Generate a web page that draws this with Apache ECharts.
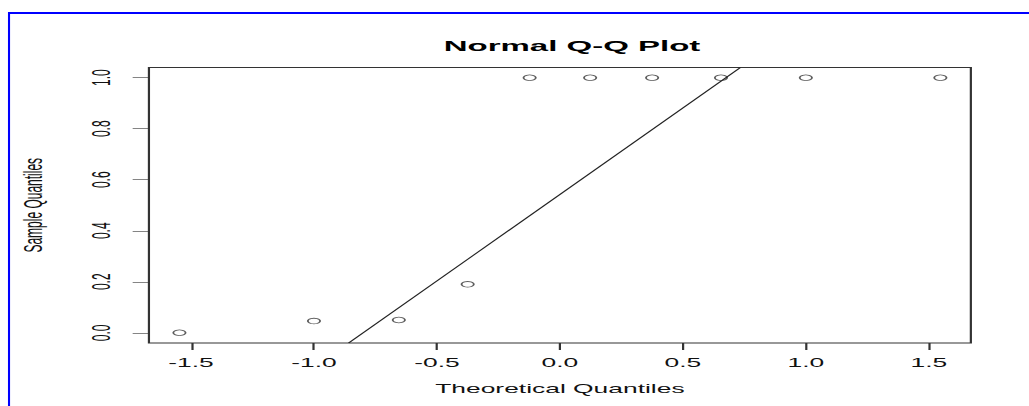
<!DOCTYPE html>
<html>
<head>
<meta charset="utf-8">
<script src="https://cdn.jsdelivr.net/npm/echarts@6/dist/echarts.min.js"></script>
<style>
  html, body { margin: 0; padding: 0; background: #fff; overflow: hidden; }
  #wrap { width: 1029px; height: 406px; overflow: hidden; position: relative; }
  #chart { width: 467.7px; height: 406px; transform: scaleX(2.2); transform-origin: 0 0; }
</style>
</head>
<body>
<div id="wrap"><div id="chart"></div></div>
<script>
// ---- data ----
const theoreticalQuantiles = [-1.547, -1.000, -0.655, -0.375, -0.123, 0.123, 0.375, 0.655, 1.000, 1.547];
const sampleQuantiles = [0.000, 0.046, 0.050, 0.190, 1.000, 1.000, 1.000, 1.000, 1.000, 1.000];
const qqLineX = [-0.859, 0.734];
const qqLineY = [-0.040, 1.040];
const xTicks = [-1.5, -1.0, -0.5, 0.0, 0.5, 1.0, 1.5];
const yTicks = [0.0, 0.2, 0.4, 0.6, 0.8, 1.0];
const titleText = 'Normal Q-Q Plot';
const xName = 'Theoretical Quantiles';
const yName = 'Sample Quantiles';

const FONT = 'Liberation Sans, Arial, sans-serif';
const W = 467.7;
const chart = echarts.init(document.getElementById('chart'), null, { renderer: 'svg', width: W, height: 406 });

const points = theoreticalQuantiles.map((x, i) => [x, sampleQuantiles[i]]);
const linePts = qqLineX.map((x, i) => [x, qqLineY[i]]);

chart.setOption({
  animation: false,
  backgroundColor: '#ffffff',
  title: {
    text: titleText,
    left: 255,
    top: 33,
    textAlign: 'center',
    textStyle: { fontFamily: FONT, fontSize: 15, fontWeight: 'bold', color: '#000' }
  },
  grid: {
    left: 67.7, top: 67.5, width: 373.6, height: 275.5,
    show: true, borderColor: '#333', borderWidth: 1, backgroundColor: 'transparent'
  },
  xAxis: {
    type: 'value',
    min: -1.671, max: 1.671,
    name: xName,
    nameLocation: 'middle',
    nameGap: 40,
    nameTextStyle: { fontFamily: FONT, fontSize: 12, color: '#111', verticalAlign: 'top' },
    axisLine: { show: false, onZero: false },
    splitLine: { show: false },
    axisTick: { show: true, length: 7, inside: false, customValues: xTicks, lineStyle: { color: '#333', width: 1 } },
    axisLabel: {
      customValues: xTicks, margin: 14, fontFamily: FONT, fontSize: 12, color: '#111',
      formatter: v => v.toFixed(1)
    }
  },
  yAxis: {
    type: 'value',
    min: -0.04, max: 1.04,
    name: yName,
    nameLocation: 'middle',
    nameGap: 47,
    nameRotate: 90,
    nameTextStyle: { fontFamily: FONT, fontSize: 12, color: '#111' },
    axisLine: { show: false, onZero: false },
    splitLine: { show: false },
    axisTick: { show: true, length: 7.4, inside: false, customValues: yTicks, lineStyle: { color: '#333', width: 0.6 } },
    axisLabel: {
      customValues: yTicks, rotate: 90, margin: 16, fontFamily: FONT, fontSize: 12, color: '#111',
      formatter: v => v.toFixed(1)
    }
  },
  graphic: [
    { type: 'line', shape: { x1: 4.1, y1: 13, x2: W + 5, y2: 13 }, style: { stroke: '#0000ff', lineWidth: 2 } },
    { type: 'line', shape: { x1: 4.1, y1: 12, x2: 4.1, y2: 410 }, style: { stroke: '#0000ff', lineWidth: 0.95 } }
  ],
  series: [
    {
      type: 'line',
      data: linePts,
      clip: true,
      symbol: 'none',
      lineStyle: { color: '#222', width: 0.75 }
    },
    {
      type: 'scatter',
      data: points,
      symbol: 'circle',
      symbolSize: 5.6,
      itemStyle: { color: '#ffffff', borderColor: '#333', borderWidth: 0.8 }
    }
  ]
});
</script>
</body>
</html>
